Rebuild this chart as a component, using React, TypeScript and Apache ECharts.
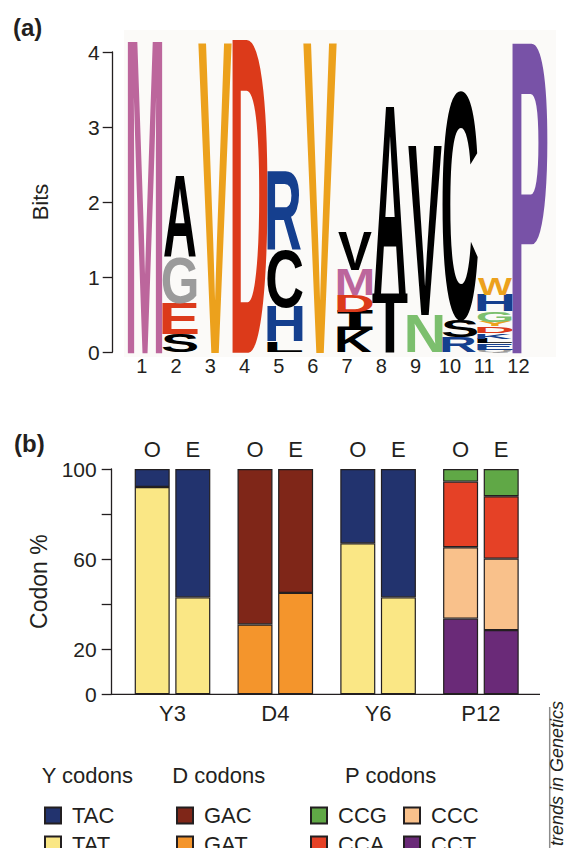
import React, { useEffect, useRef } from 'react';
import * as echarts from 'echarts';

// ---------- Panel (a): sequence logo ----------
const logoPositions = ['1', '2', '3', '4', '5', '6', '7', '8', '9', '10', '11', '12'];
// letters of each column, bottom to top
const logoLetters = ['M', 'SEGA', 'V', 'D', 'LHCR', 'V', 'KIDMV', 'TA', 'NV', 'RSC', 'QELKDYGHW', 'P'];
// information (bits) of each letter, bottom to top
const logoBits = [
  [4.15],
  [0.25, 0.4, 0.62, 1.07],
  [4.13],
  [4.17],
  [0.14, 0.45, 0.77, 1.03],
  [4.13],
  [0.29, 0.25, 0.22, 0.34, 0.51],
  [0.78, 2.5],
  [0.49, 2.25],
  [0.2, 0.22, 3.07],
  [0.03, 0.09, 0.06, 0.07, 0.09, 0.06, 0.14, 0.22, 0.22],
  [4.13],
];
const bitTicks = [0, 1, 2, 3, 4];

// ---------- Panel (b): codon usage ----------
const barCategories = ['Y3', 'D4', 'Y6', 'P12'];
const TAT_O = [92, null, 67, null];
const TAT_E = [43, null, 43, null];
const TAC_O = [8, null, 33, null];
const TAC_E = [57, null, 57, null];
const GAT_O = [null, 31, null, null];
const GAT_E = [null, 45, null, null];
const GAC_O = [null, 69, null, null];
const GAC_E = [null, 55, null, null];
const CCT_O = [null, null, null, 33.6];
const CCT_E = [null, null, null, 28.5];
const CCC_O = [null, null, null, 31.7];
const CCC_E = [null, null, null, 31.7];
const CCA_O = [null, null, null, 29.1];
const CCA_E = [null, null, null, 27.7];
const CCG_O = [null, null, null, 5.6];
const CCG_E = [null, null, null, 12.1];
const codonLabelledTicks = [0, 20, 60, 100];

// ---------- styles ----------
const INK = '#231f20';
const FONT = '"Liberation Sans", Arial, Helvetica, sans-serif';
const C_PINK = '#bc669c';
const C_ORANGE = '#eca11c';
const C_RED = '#dc3a1a';
const C_GRAY = '#9b9b9b';
const C_BLUE = '#153f8e';
const C_GREEN = '#7cbf6e';
const C_PURPLE = '#7852a7';
const C_BLACK = '#000000';
const logoColors = [
  [C_PINK],
  [C_BLACK, C_RED, C_GRAY, C_BLACK],
  [C_ORANGE],
  [C_RED],
  [C_BLACK, C_BLUE, C_BLACK, C_BLUE],
  [C_ORANGE],
  [C_BLACK, C_BLACK, C_RED, C_PINK, C_BLACK],
  [C_BLACK, C_BLACK],
  [C_GREEN, C_BLACK],
  [C_BLUE, C_BLACK, C_BLACK],
  [C_GRAY, C_BLUE, C_BLACK, C_BLUE, C_RED, C_ORANGE, C_GREEN, C_BLUE, C_ORANGE],
  [C_PURPLE],
];

const codonColors: Record<string, string> = {
  TAC: '#22336e',
  TAT: '#fae785',
  GAC: '#7f2618',
  GAT: '#f4952c',
  CCG: '#60a846',
  CCA: '#e54126',
  CCC: '#f9c18b',
  CCT: '#6a2a78',
};

// glyph metrics (em): advance, left bearing, right bearing, cap height
const SANS = '"Liberation Sans", Arial, sans-serif';
const MONO = '"DejaVu Sans Mono", monospace';
const FLAT = 0.688;
const ROUND = 0.71;
const GLYPHS: Record<string, { adv: number; lsb: number; rsb: number; cap: number; font: string }> = {
  A: { adv: 0.722, lsb: 0.0, rsb: 0.0, cap: FLAT, font: SANS },
  C: { adv: 0.722, lsb: 0.05, rsb: 0.04, cap: ROUND, font: SANS },
  D: { adv: 0.722, lsb: 0.075, rsb: 0.05, cap: FLAT, font: SANS },
  E: { adv: 0.667, lsb: 0.075, rsb: 0.05, cap: FLAT, font: SANS },
  G: { adv: 0.778, lsb: 0.045, rsb: 0.05, cap: ROUND, font: SANS },
  H: { adv: 0.722, lsb: 0.075, rsb: 0.075, cap: FLAT, font: SANS },
  I: { adv: 0.602, lsb: 0.09, rsb: 0.09, cap: 0.729, font: MONO },
  K: { adv: 0.722, lsb: 0.075, rsb: 0.0, cap: FLAT, font: SANS },
  L: { adv: 0.611, lsb: 0.075, rsb: 0.03, cap: FLAT, font: SANS },
  M: { adv: 0.833, lsb: 0.07, rsb: 0.07, cap: FLAT, font: SANS },
  N: { adv: 0.722, lsb: 0.075, rsb: 0.075, cap: FLAT, font: SANS },
  P: { adv: 0.667, lsb: 0.075, rsb: 0.04, cap: FLAT, font: SANS },
  Q: { adv: 0.778, lsb: 0.04, rsb: 0.02, cap: ROUND, font: SANS },
  R: { adv: 0.722, lsb: 0.075, rsb: 0.0, cap: FLAT, font: SANS },
  S: { adv: 0.667, lsb: 0.035, rsb: 0.04, cap: ROUND, font: SANS },
  T: { adv: 0.611, lsb: 0.02, rsb: 0.02, cap: FLAT, font: SANS },
  V: { adv: 0.667, lsb: 0.0, rsb: 0.0, cap: FLAT, font: SANS },
  W: { adv: 0.944, lsb: 0.0, rsb: 0.0, cap: FLAT, font: SANS },
  Y: { adv: 0.667, lsb: 0.0, rsb: 0.0, cap: FLAT, font: SANS },
};
const FS = 100;
const CAP_SHIFT = 0.0;

export default function App() {
  const ref = useRef<HTMLDivElement>(null);

  useEffect(() => {
    if (!ref.current) return;
    const chart = echarts.init(ref.current, undefined, { renderer: 'svg' });

    // flatten the logo into stacked letter items
    const logoItems: any[] = [];
    const logoMeta: { letter: string; color: string }[] = [];
    logoLetters.forEach((letters, ci) => {
      let base = 0;
      letters.split('').forEach((letter, li) => {
        const h = logoBits[ci][li];
        logoItems.push([ci + 1, base, base + h]);
        logoMeta.push({ letter, color: logoColors[ci][li] });
        base += h;
      });
    });

    const codonDefs = [
      { name: 'TAT', O: TAT_O, E: TAT_E, top: false },
      { name: 'TAC', O: TAC_O, E: TAC_E, top: true },
      { name: 'GAT', O: GAT_O, E: GAT_E, top: false },
      { name: 'GAC', O: GAC_O, E: GAC_E, top: true },
      { name: 'CCT', O: CCT_O, E: CCT_E, top: false },
      { name: 'CCC', O: CCC_O, E: CCC_E, top: false },
      { name: 'CCA', O: CCA_O, E: CCA_E, top: false },
      { name: 'CCG', O: CCG_O, E: CCG_E, top: true },
    ];
    const barSeries: any[] = [];
    (['O', 'E'] as const).forEach((stack) => {
      codonDefs.forEach((d) => {
        barSeries.push({
          type: 'bar',
          name: d.name,
          stack,
          xAxisIndex: 2,
          yAxisIndex: 1,
          data: d[stack].map((v) => (v == null ? '-' : v)),
          barWidth: 35,
          barGap: '16%',
          itemStyle: { color: codonColors[d.name], borderColor: INK, borderWidth: 1.2 },
          label: d.top
            ? {
                show: true,
                position: 'top',
                distance: 9,
                formatter: stack,
                color: INK,
                fontSize: 22,
                fontFamily: FONT,
              }
            : { show: false },
        });
      });
    });

    const legendCommon = {
      orient: 'vertical',
      top: 804.5,
      height: 60,
      width: 100,
      padding: 0,
      itemWidth: 16,
      itemHeight: 16,
      itemGap: 7,
      icon: 'rect',
      selectedMode: false,
      textStyle: { fontSize: 22, color: INK, fontFamily: FONT, lineHeight: 18, padding: [0, 0, 0, 6] },
    };

    const axisText = { color: INK, fontFamily: FONT };

    chart.setOption({
      animation: false,
      backgroundColor: '#ffffff',
      grid: [
        { left: 124.6, top: 52, width: 410.9, height: 300 },
        { left: 121.1, top: 469, width: 411.2, height: 225.3 },
      ],
      xAxis: [
        {
          type: 'category',
          gridIndex: 0,
          data: logoPositions,
          axisLine: { show: false },
          axisTick: { show: false },
          axisLabel: { ...axisText, fontSize: 20, margin: 4 },
        },
        { type: 'value', gridIndex: 0, min: 0.417, max: 12.157, show: false },
        {
          type: 'category',
          gridIndex: 1,
          data: barCategories,
          axisLine: { show: false },
          axisTick: { show: false },
          axisLabel: { ...axisText, fontSize: 22, margin: 8 },
        },
      ],
      yAxis: [
        {
          type: 'value',
          gridIndex: 0,
          min: bitTicks[0],
          max: bitTicks[bitTicks.length - 1],
          interval: 1,
          offset: 11.9,
          name: 'Bits',
          nameLocation: 'middle',
          nameGap: 61.7,
          nameRotate: 90,
          nameTextStyle: { ...axisText, fontSize: 22 },
          axisLine: { show: true, lineStyle: { color: INK, width: 1.3 } },
          axisTick: { show: true, length: 10, lineStyle: { color: INK, width: 1.3 } },
          axisLabel: { ...axisText, fontSize: 21, margin: 13 },
          splitLine: { show: false },
        },
        {
          type: 'value',
          gridIndex: 1,
          min: 0,
          max: 100,
          interval: 20,
          offset: 9.4,
          name: 'Codon %',
          nameLocation: 'middle',
          nameGap: 60.7,
          nameRotate: 90,
          nameTextStyle: { ...axisText, fontSize: 23, padding: [0, 0, 0, 0] },
          axisLine: { show: true, lineStyle: { color: INK, width: 1.3 } },
          axisTick: { show: true, length: 10, lineStyle: { color: INK, width: 1.3 } },
          axisLabel: {
            ...axisText,
            fontSize: 21,
            margin: 15,
            formatter: (v: number) => (codonLabelledTicks.includes(v) ? String(v) : ''),
          },
          splitLine: { show: false },
        },
      ],
      legend: [
        { ...legendCommon, left: 44, data: ['TAC', 'TAT'] },
        { ...legendCommon, left: 176, data: ['GAC', 'GAT'] },
        { ...legendCommon, left: 310, data: ['CCG', 'CCA'] },
        { ...legendCommon, left: 403, data: ['CCC', 'CCT'] },
      ],
      graphic: [
        {
          type: 'rect',
          z: -10,
          silent: true,
          shape: { x: 124, y: 30, width: 432, height: 327 },
          style: { fill: '#fbfaf8' },
        },
        {
          type: 'text',
          x: 13,
          y: 27,
          style: { text: '(a)', font: `bold 24px ${FONT}`, fill: INK, verticalAlign: 'middle', textVerticalAlign: 'middle' },
        },
        {
          type: 'text',
          x: 14,
          y: 443,
          style: { text: '(b)', font: `bold 24px ${FONT}`, fill: INK, verticalAlign: 'middle', textVerticalAlign: 'middle' },
        },
        {
          type: 'line',
          shape: { x1: 111.7, y1: 694.3, x2: 540, y2: 694.3 },
          style: { stroke: INK, lineWidth: 1.3 },
        },
        ...[
          ['Y codons', 41.7],
          ['D codons', 172.3],
          ['P codons', 345],
        ].map(([t, x]) => ({
          type: 'text',
          x: x as number,
          y: 775,
          style: { text: t as string, font: `22px ${FONT}`, fill: INK, verticalAlign: 'middle', textVerticalAlign: 'middle' },
        })),
        {
          type: 'line',
          shape: { x1: 549.7, y1: 707, x2: 549.7, y2: 848 },
          style: { stroke: '#8c8c8c', lineWidth: 1.5 },
        },
        {
          type: 'text',
          x: 557,
          y: 846,
          rotation: Math.PI / 2,
          style: {
            text: 'trends in Genetics',
            font: `italic 18px ${FONT}`,
            fill: INK,
            align: 'left',
            textAlign: 'left',
            verticalAlign: 'middle',
            textVerticalAlign: 'middle',
          },
        },
      ],
      series: [
        {
          type: 'custom',
          name: 'logo',
          xAxisIndex: 1,
          yAxisIndex: 0,
          clip: false,
          encode: { x: 0, y: [1, 2] },
          data: logoItems,
          renderItem: (params: any, api: any) => {
            const meta = logoMeta[params.dataIndex];
            const g = GLYPHS[meta.letter];
            const x = api.value(0);
            const pb = api.coord([x, api.value(1)]);
            const pt = api.coord([x, api.value(2)]);
            const w = api.size([0.97, 0])[0];
            const h = pb[1] - pt[1];
            const ink = g.adv - g.lsb - g.rsb;
            return {
              type: 'text',
              x: pb[0],
              y: (pb[1] + pt[1]) / 2,
              scaleX: w / (ink * FS),
              scaleY: h / (g.cap * FS),
              style: {
                text: meta.letter,
                x: (-(g.lsb - g.rsb) / 2) * FS,
                y: CAP_SHIFT * FS,
                font: `bold ${FS}px ${g.font}`,
                fill: meta.color,
                align: 'center',
                textAlign: 'center',
                verticalAlign: 'middle',
                textVerticalAlign: 'middle',
              },
            };
          },
        },
        ...barSeries,
      ],
    });

    return () => chart.dispose();
  }, []);

  return (
    <div
      ref={ref}
      style={{ position: 'fixed', left: 0, top: 0, width: 569, height: 848, background: '#fff' }}
    />
  );
}
